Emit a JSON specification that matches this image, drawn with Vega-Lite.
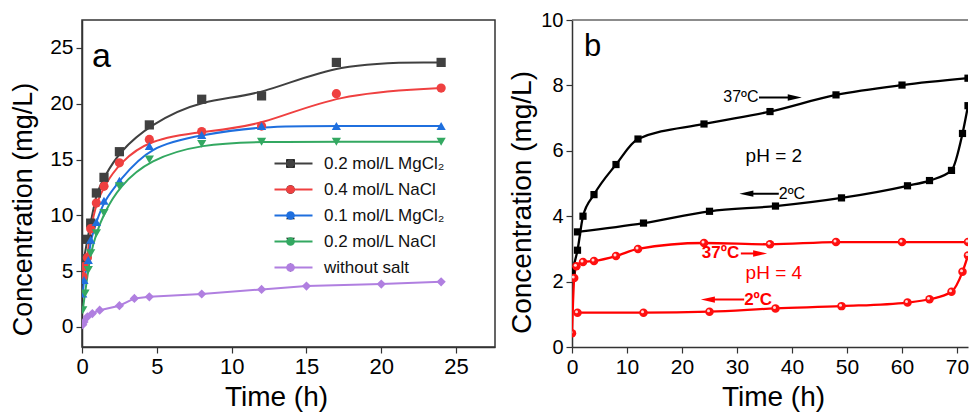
{
  "$schema": "https://vega.github.io/schema/vega-lite/v6.json",
  "padding": {"left": 8, "top": 10, "right": 0, "bottom": 0},
  "bounds": "flush",
  "spacing": 77,
  "resolve": {"scale": {"color": "independent", "shape": "independent"}, "legend": {"color": "independent", "shape": "independent"}},
  "config": {
    "font": "Liberation Sans",
    "view": {"stroke": null},
    "axis": {
      "grid": false,
      "domainColor": "#333333",
      "domainWidth": 1.5,
      "tickColor": "#333333",
      "tickWidth": 1.2,
      "labelColor": "#000000",
      "titleColor": "#000000",
      "titleFontWeight": "normal",
      "labelOverlap": false,
      "labelFlush": false
    }
  },
  "datasets": {
    "a": [
      {"series": "0.2 mol/L MgCl₂", "t": 0.13, "c": 6.1},
      {"series": "0.2 mol/L MgCl₂", "t": 0.36, "c": 7.85},
      {"series": "0.2 mol/L MgCl₂", "t": 0.58, "c": 9.3},
      {"series": "0.2 mol/L MgCl₂", "t": 0.96, "c": 12.0},
      {"series": "0.2 mol/L MgCl₂", "t": 1.47, "c": 13.4},
      {"series": "0.2 mol/L MgCl₂", "t": 2.5, "c": 15.7},
      {"series": "0.2 mol/L MgCl₂", "t": 4.5, "c": 18.1},
      {"series": "0.2 mol/L MgCl₂", "t": 8, "c": 20.4},
      {"series": "0.2 mol/L MgCl₂", "t": 12, "c": 20.7},
      {"series": "0.2 mol/L MgCl₂", "t": 17, "c": 23.7},
      {"series": "0.2 mol/L MgCl₂", "t": 24, "c": 23.7},
      {"series": "0.4 mol/L NaCl", "t": 0.07, "c": 4.5},
      {"series": "0.4 mol/L NaCl", "t": 0.13, "c": 5.4},
      {"series": "0.4 mol/L NaCl", "t": 0.36, "c": 6.2},
      {"series": "0.4 mol/L NaCl", "t": 0.58, "c": 8.8},
      {"series": "0.4 mol/L NaCl", "t": 0.96, "c": 11.1},
      {"series": "0.4 mol/L NaCl", "t": 1.47, "c": 12.6},
      {"series": "0.4 mol/L NaCl", "t": 2.5, "c": 14.7},
      {"series": "0.4 mol/L NaCl", "t": 4.5, "c": 16.8},
      {"series": "0.4 mol/L NaCl", "t": 8, "c": 17.5},
      {"series": "0.4 mol/L NaCl", "t": 12, "c": 18.0},
      {"series": "0.4 mol/L NaCl", "t": 17, "c": 20.9},
      {"series": "0.4 mol/L NaCl", "t": 24, "c": 21.4},
      {"series": "0.1 mol/L MgCl₂", "t": 0.05, "c": 3.0},
      {"series": "0.1 mol/L MgCl₂", "t": 0.13, "c": 4.2},
      {"series": "0.1 mol/L MgCl₂", "t": 0.42, "c": 6.0},
      {"series": "0.1 mol/L MgCl₂", "t": 0.58, "c": 7.8},
      {"series": "0.1 mol/L MgCl₂", "t": 0.96, "c": 9.4},
      {"series": "0.1 mol/L MgCl₂", "t": 1.47, "c": 11.3},
      {"series": "0.1 mol/L MgCl₂", "t": 2.5, "c": 13.1},
      {"series": "0.1 mol/L MgCl₂", "t": 4.5, "c": 16.2},
      {"series": "0.1 mol/L MgCl₂", "t": 8, "c": 17.2},
      {"series": "0.1 mol/L MgCl₂", "t": 12, "c": 18.0},
      {"series": "0.1 mol/L MgCl₂", "t": 17, "c": 18.0},
      {"series": "0.1 mol/L MgCl₂", "t": 24, "c": 18.0},
      {"series": "0.2 mol/L NaCl", "t": 0.05, "c": 1.5},
      {"series": "0.2 mol/L NaCl", "t": 0.2, "c": 3.0},
      {"series": "0.2 mol/L NaCl", "t": 0.42, "c": 5.1},
      {"series": "0.2 mol/L NaCl", "t": 0.58, "c": 6.6},
      {"series": "0.2 mol/L NaCl", "t": 0.96, "c": 8.4},
      {"series": "0.2 mol/L NaCl", "t": 1.47, "c": 10.2},
      {"series": "0.2 mol/L NaCl", "t": 2.5, "c": 12.6},
      {"series": "0.2 mol/L NaCl", "t": 4.5, "c": 15.0},
      {"series": "0.2 mol/L NaCl", "t": 8, "c": 16.4},
      {"series": "0.2 mol/L NaCl", "t": 12, "c": 16.6},
      {"series": "0.2 mol/L NaCl", "t": 17, "c": 16.6},
      {"series": "0.2 mol/L NaCl", "t": 24, "c": 16.6},
      {"series": "without salt", "t": 0.05, "c": 0.2},
      {"series": "without salt", "t": 0.13, "c": 0.45},
      {"series": "without salt", "t": 0.36, "c": 0.9},
      {"series": "without salt", "t": 0.69, "c": 1.2},
      {"series": "without salt", "t": 1.18, "c": 1.5},
      {"series": "without salt", "t": 2.5, "c": 1.9},
      {"series": "without salt", "t": 3.5, "c": 2.55},
      {"series": "without salt", "t": 4.5, "c": 2.7},
      {"series": "without salt", "t": 8, "c": 2.95},
      {"series": "without salt", "t": 12, "c": 3.36},
      {"series": "without salt", "t": 15, "c": 3.66},
      {"series": "without salt", "t": 20, "c": 3.84},
      {"series": "without salt", "t": 24, "c": 4.04}
    ],
    "b": [
      {"series": "pH = 2", "branch": "37", "t": 0, "c": 2.32},
      {"series": "pH = 2", "branch": "37", "t": 1, "c": 2.96},
      {"series": "pH = 2", "branch": "37", "t": 2, "c": 4.0},
      {"series": "pH = 2", "branch": "37", "t": 4, "c": 4.66},
      {"series": "pH = 2", "branch": "37", "t": 8, "c": 5.58},
      {"series": "pH = 2", "branch": "37", "t": 12, "c": 6.36},
      {"series": "pH = 2", "branch": "37", "t": 24, "c": 6.82},
      {"series": "pH = 2", "branch": "37", "t": 36, "c": 7.2},
      {"series": "pH = 2", "branch": "37", "t": 48, "c": 7.71},
      {"series": "pH = 2", "branch": "37", "t": 60, "c": 8.01},
      {"series": "pH = 2", "branch": "37", "t": 72, "c": 8.22},
      {"series": "pH = 2", "branch": "2", "t": 1, "c": 3.52},
      {"series": "pH = 2", "branch": "2", "t": 13, "c": 3.79},
      {"series": "pH = 2", "branch": "2", "t": 25, "c": 4.15},
      {"series": "pH = 2", "branch": "2", "t": 37, "c": 4.31},
      {"series": "pH = 2", "branch": "2", "t": 49, "c": 4.56},
      {"series": "pH = 2", "branch": "2", "t": 61, "c": 4.93},
      {"series": "pH = 2", "branch": "2", "t": 65, "c": 5.09},
      {"series": "pH = 2", "branch": "2", "t": 69, "c": 5.4},
      {"series": "pH = 2", "branch": "2", "t": 71, "c": 6.53},
      {"series": "pH = 2", "branch": "2", "t": 72, "c": 7.38},
      {"series": "pH = 4", "branch": "37", "t": 0, "c": 0.42},
      {"series": "pH = 4", "branch": "37", "t": 0.4, "c": 2.11},
      {"series": "pH = 4", "branch": "37", "t": 0.8, "c": 2.47},
      {"series": "pH = 4", "branch": "37", "t": 2, "c": 2.6},
      {"series": "pH = 4", "branch": "37", "t": 4, "c": 2.63},
      {"series": "pH = 4", "branch": "37", "t": 8, "c": 2.78},
      {"series": "pH = 4", "branch": "37", "t": 12, "c": 3.0},
      {"series": "pH = 4", "branch": "37", "t": 24, "c": 3.18},
      {"series": "pH = 4", "branch": "37", "t": 36, "c": 3.14},
      {"series": "pH = 4", "branch": "37", "t": 48, "c": 3.21},
      {"series": "pH = 4", "branch": "37", "t": 60, "c": 3.21},
      {"series": "pH = 4", "branch": "37", "t": 72, "c": 3.21},
      {"series": "pH = 4", "branch": "2", "t": 1, "c": 1.05},
      {"series": "pH = 4", "branch": "2", "t": 13, "c": 1.05},
      {"series": "pH = 4", "branch": "2", "t": 25, "c": 1.08},
      {"series": "pH = 4", "branch": "2", "t": 37, "c": 1.18},
      {"series": "pH = 4", "branch": "2", "t": 49, "c": 1.25},
      {"series": "pH = 4", "branch": "2", "t": 61, "c": 1.36},
      {"series": "pH = 4", "branch": "2", "t": 65, "c": 1.46},
      {"series": "pH = 4", "branch": "2", "t": 69, "c": 1.69},
      {"series": "pH = 4", "branch": "2", "t": 71, "c": 2.3},
      {"series": "pH = 4", "branch": "2", "t": 72, "c": 2.8}
    ],
    "notes": [
      {"series": "pH = 2", "label": "37ºC", "t": 27.5, "c": 7.63},
      {"series": "pH = 2", "label": "2ºC", "t": 37.6, "c": 4.69},
      {"series": "pH = 4", "label": "37ºC", "t": 23.6, "c": 2.86},
      {"series": "pH = 4", "label": "2ºC", "t": 31.3, "c": 1.45}
    ],
    "arrows": [
      {"series": "pH = 2", "temp": "37ºC", "from": 34.0, "to": 40.5, "c": 7.63},
      {"series": "pH = 2", "temp": "2ºC", "from": 37.6, "to": 31.7, "c": 4.69},
      {"series": "pH = 4", "temp": "37ºC", "from": 30.7, "to": 34.2, "c": 2.86},
      {"series": "pH = 4", "temp": "2ºC", "from": 31.3, "to": 24.7, "c": 1.45}
    ],
    "ph": [
      {"series": "pH = 2", "t": 36.7, "c": 5.85},
      {"series": "pH = 4", "t": 36.7, "c": 2.27}
    ]
  },
  "hconcat": [
    {
      "width": 413,
      "height": 327,
      "view": {"stroke": "#333333", "strokeWidth": 1.5},
      "layer": [
        {
          "data": {"name": "a"},
          "transform": [{"filter": "datum.series !== 'without salt'"}],
          "mark": {"type": "line", "interpolate": "basis", "strokeWidth": 2, "clip": true},
          "encoding": {
            "x": {
              "field": "t", "type": "quantitative",
              "scale": {"domain": [0, 27.6], "nice": false, "zero": false},
              "axis": {
                "values": [0, 2.5, 5, 7.5, 10, 12.5, 15, 17.5, 20, 22.5, 25, 27.5],
                "labelExpr": "datum.value % 5 === 0 ? datum.label : ''",
                "tickSize": {"condition": {"test": "datum.value % 5 === 0", "value": 6}, "value": 3},
                "title": "Time (h)",
                "labelFontSize": 22,
                "labelPadding": 3,
                "titleFontSize": 28,
                "titleX": 194,
                "titleY": 36
              }
            },
            "y": {
              "field": "c", "type": "quantitative",
              "scale": {"domain": [-1.8, 27.5], "nice": false, "zero": false},
              "axis": {
                "values": [0, 2.5, 5, 7.5, 10, 12.5, 15, 17.5, 20, 22.5, 25],
                "labelExpr": "datum.value % 5 === 0 ? datum.label : ''",
                "tickSize": {"condition": {"test": "datum.value % 5 === 0", "value": 6}, "value": 3},
                "title": "Concentration (mg/L)",
                "labelFontSize": 21,
                "labelPadding": 3,
                "titleFontSize": 27,
                "titleX": -45,
                "titleY": 189
              }
            },
            "color": {
              "field": "series", "type": "nominal",
              "scale": {
                "domain": ["0.2 mol/L MgCl₂", "0.4 mol/L NaCl", "0.1 mol/L MgCl₂", "0.2 mol/L NaCl", "without salt"],
                "range": ["#404040", "#ef4040", "#1f6fde", "#33a861", "#b07fe0"]
              },
              "legend": {
                "orient": "none", "legendX": 203, "legendY": 135, "title": null,
                "symbolType": "M-7.6,0H7.6", "symbolSize": 25, "symbolStrokeWidth": 2,
                "labelFontSize": 17, "labelColor": "#111111", "labelOffset": 22,
                "rowPadding": 8, "padding": 0
              }
            }
          }
        },
        {
          "data": {"name": "a"},
          "transform": [{"filter": "datum.series === 'without salt'"}],
          "mark": {"type": "line", "color": "#b07fe0", "strokeWidth": 2, "clip": true},
          "encoding": {
            "x": {"field": "t", "type": "quantitative"},
            "y": {"field": "c", "type": "quantitative"}
          }
        },
        {
          "data": {"name": "a"},
          "mark": {"type": "point", "filled": true, "size": 85, "opacity": 1, "clip": true},
          "encoding": {
            "x": {"field": "t", "type": "quantitative"},
            "y": {"field": "c", "type": "quantitative"},
            "color": {
              "field": "series", "type": "nominal",
              "scale": {
                "domain": ["0.2 mol/L MgCl₂", "0.4 mol/L NaCl", "0.1 mol/L MgCl₂", "0.2 mol/L NaCl", "without salt"],
                "range": ["#404040", "#ef4040", "#1f6fde", "#33a861", "#b07fe0"]
              },
              "legend": {
                "orient": "none", "legendX": 200, "legendY": 135, "title": null,
                "symbolSize": 75, "labelFontSize": 17, "labelExpr": "''",
                "rowPadding": 8, "padding": 0
              }
            },
            "shape": {
              "field": "series", "type": "nominal",
              "scale": {
                "domain": ["0.2 mol/L MgCl₂", "0.4 mol/L NaCl", "0.1 mol/L MgCl₂", "0.2 mol/L NaCl", "without salt"],
                "range": ["square", "circle", "triangle-up", "triangle-down", "diamond"]
              },
              "legend": {
                "orient": "none", "legendX": 200, "legendY": 135, "title": null,
                "symbolSize": 75, "labelFontSize": 17, "labelExpr": "''",
                "rowPadding": 8, "padding": 0
              }
            }
          }
        },
        {
          "data": {"values": [{}]},
          "mark": {"type": "text", "text": "a", "fontSize": 34, "align": "left", "baseline": "middle", "color": "#000000"},
          "encoding": {
            "x": {"datum": 0.67, "type": "quantitative"},
            "y": {"datum": 24.2, "type": "quantitative"}
          }
        }
      ],
      "resolve": {"scale": {"color": "independent"}}
    },
    {
      "width": 396,
      "height": 327,
      "layer": [
        {
          "data": {"name": "b"},
          "mark": {"type": "line", "interpolate": "monotone", "strokeWidth": 2.3, "clip": true},
          "encoding": {
            "x": {
              "field": "t", "type": "quantitative",
              "scale": {"domain": [0, 72], "nice": false, "zero": false},
              "axis": {
                "values": [0, 5, 10, 15, 20, 25, 30, 35, 40, 45, 50, 55, 60, 65, 70],
                "labelExpr": "datum.value % 10 === 0 ? datum.label : ''",
                "tickSize": {"condition": {"test": "datum.value % 10 === 0", "value": 6}, "value": 3},
                "title": "Time (h)",
                "labelFontSize": 21,
                "labelPadding": 3,
                "titleFontSize": 28,
                "titleX": 201,
                "titleY": 36
              }
            },
            "y": {
              "field": "c", "type": "quantitative",
              "scale": {"domain": [0, 10], "nice": false, "zero": false},
              "axis": {
                "values": [0, 1, 2, 3, 4, 5, 6, 7, 8, 9, 10],
                "labelExpr": "datum.value % 2 === 0 ? datum.label : ''",
                "tickSize": {"condition": {"test": "datum.value % 2 === 0", "value": 6}, "value": 3},
                "title": "Concentration (mg/L)",
                "labelFontSize": 20,
                "labelPadding": 3,
                "titleFontSize": 28,
                "titleX": -36,
                "titleY": 182
              }
            },
            "color": {
              "field": "series", "type": "nominal",
              "scale": {"domain": ["pH = 2", "pH = 4"], "range": ["#000000", "#ff0000"]},
              "legend": null
            },
            "detail": {"field": "branch", "type": "nominal"}
          }
        },
        {
          "data": {"values": [{}]},
          "mark": {"type": "rule", "color": "#666666", "strokeWidth": 1.5},
          "encoding": {"y": {"datum": 10, "type": "quantitative"}}
        },
        {
          "data": {"name": "b"},
          "transform": [{"filter": "datum.series === 'pH = 2'"}],
          "mark": {"type": "point", "shape": "square", "filled": true, "size": 52, "color": "#000000", "opacity": 1, "clip": true},
          "encoding": {
            "x": {"field": "t", "type": "quantitative"},
            "y": {"field": "c", "type": "quantitative"}
          }
        },
        {
          "data": {"name": "b"},
          "transform": [{"filter": "datum.series === 'pH = 4'"}],
          "mark": {"type": "point", "shape": "circle", "filled": true, "size": 72, "color": "#ff1010", "opacity": 1, "clip": true},
          "encoding": {
            "x": {"field": "t", "type": "quantitative"},
            "y": {"field": "c", "type": "quantitative"}
          }
        },
        {
          "data": {"name": "b"},
          "transform": [{"filter": "datum.series === 'pH = 4'"}],
          "mark": {"type": "point", "shape": "circle", "filled": true, "size": 9, "color": "#ffffff", "opacity": 0.85, "xOffset": -1, "yOffset": -1, "clip": true},
          "encoding": {
            "x": {"field": "t", "type": "quantitative"},
            "y": {"field": "c", "type": "quantitative"}
          }
        },
        {
          "data": {"name": "arrows"},
          "mark": {"type": "rule", "strokeWidth": 2},
          "encoding": {
            "x": {"field": "from", "type": "quantitative"},
            "x2": {"field": "to"},
            "y": {"field": "c", "type": "quantitative"},
            "color": {"field": "series", "type": "nominal", "legend": null}
          }
        },
        {
          "data": {"name": "arrows"},
          "mark": {"type": "point", "filled": true, "size": 196, "opacity": 1},
          "encoding": {
            "x": {"field": "to", "type": "quantitative"},
            "y": {"field": "c", "type": "quantitative"},
            "color": {"field": "series", "type": "nominal", "legend": null},
            "shape": {
              "field": "temp", "type": "nominal",
              "scale": {"domain": ["37ºC", "2ºC"], "range": ["M-1,-0.45L1,0L-1,0.45Z", "M1,-0.45L-1,0L1,0.45Z"]},
              "legend": null
            }
          }
        },
        {
          "data": {"name": "notes"},
          "transform": [{"filter": "datum.series === 'pH = 2'"}],
          "mark": {"type": "text", "fontSize": 16, "align": "left", "baseline": "middle", "color": "#000000"},
          "encoding": {
            "x": {"field": "t", "type": "quantitative"},
            "y": {"field": "c", "type": "quantitative"},
            "text": {"field": "label"}
          }
        },
        {
          "data": {"name": "notes"},
          "transform": [{"filter": "datum.series === 'pH = 4'"}],
          "mark": {"type": "text", "fontSize": 17, "fontWeight": "bold", "align": "left", "baseline": "middle", "color": "#ff0000"},
          "encoding": {
            "x": {"field": "t", "type": "quantitative"},
            "y": {"field": "c", "type": "quantitative"},
            "text": {"field": "label"}
          }
        },
        {
          "data": {"name": "ph"},
          "mark": {"type": "text", "fontSize": 19, "align": "center", "baseline": "middle"},
          "encoding": {
            "x": {"field": "t", "type": "quantitative"},
            "y": {"field": "c", "type": "quantitative"},
            "text": {"field": "series"},
            "color": {"field": "series", "type": "nominal", "legend": null}
          }
        },
        {
          "data": {"values": [{}]},
          "mark": {"type": "text", "text": "b", "fontSize": 31, "align": "left", "baseline": "middle", "color": "#000000"},
          "encoding": {
            "x": {"datum": 2.2, "type": "quantitative"},
            "y": {"datum": 9.16, "type": "quantitative"}
          }
        }
      ]
    }
  ]
}
